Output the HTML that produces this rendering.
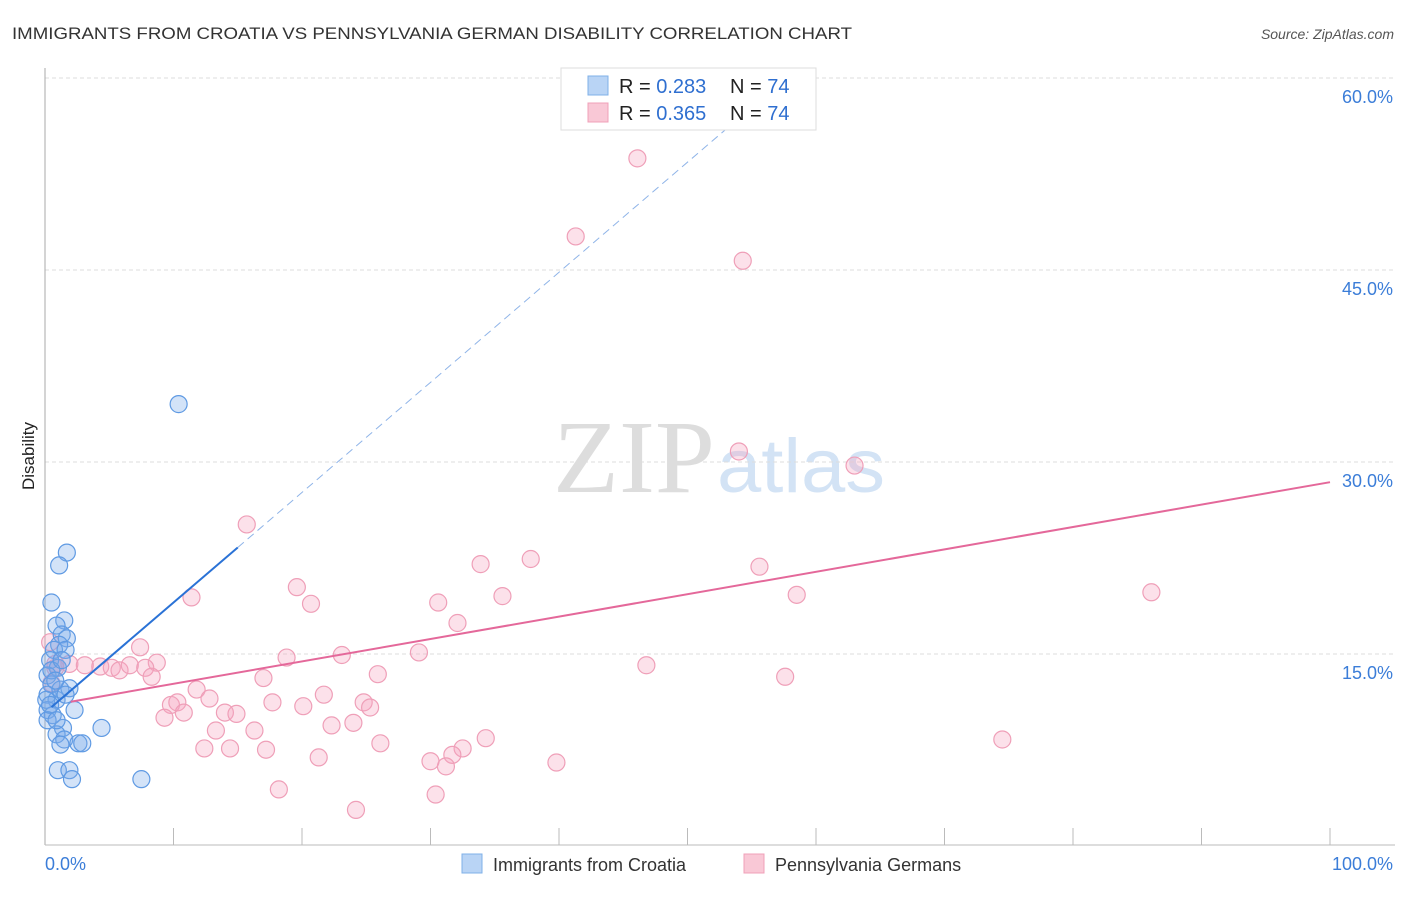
<!DOCTYPE html>
<html><head><meta charset="utf-8"><style>
body{margin:0;background:#fff;font-family:"Liberation Sans",sans-serif}
</style></head><body>
<svg id="c" width="1406" height="892" xmlns="http://www.w3.org/2000/svg">
<text x="12" y="39" font-size="17" fill="#333" textLength="840" lengthAdjust="spacingAndGlyphs">IMMIGRANTS FROM CROATIA VS PENNSYLVANIA GERMAN DISABILITY CORRELATION CHART</text>
<text x="1394" y="39" font-size="14" fill="#555" font-style="italic" text-anchor="end">Source: ZipAtlas.com</text>
<text transform="translate(34,456) rotate(-90)" font-size="17" fill="#222" text-anchor="middle">Disability</text>
<text x="553" y="492" font-size="104" font-family="Liberation Serif,serif" fill="#ddd" textLength="162" lengthAdjust="spacingAndGlyphs">ZIP</text>
<text x="717" y="492" font-size="76" fill="#d3e3f5" textLength="168" lengthAdjust="spacingAndGlyphs">atlas</text>
<g id="grid"></g><g id="pts"></g><g id="lines"></g>
<g>
<rect x="561" y="68" width="255" height="62" fill="#fff" stroke="#ddd"/>
<rect x="588" y="76" width="20" height="19" fill="#b9d4f5" stroke="#7fb0e8"/>
<rect x="588" y="103" width="20" height="19" fill="#f9c8d6" stroke="#f0a0b8"/>
<text x="619" y="93" font-size="20" fill="#222">R = <tspan fill="#2f6fd0">0.283</tspan></text>
<text x="730" y="93" font-size="20" fill="#222">N = <tspan fill="#2f6fd0">74</tspan></text>
<text x="619" y="120" font-size="20" fill="#222">R = <tspan fill="#2f6fd0">0.365</tspan></text>
<text x="730" y="120" font-size="20" fill="#222">N = <tspan fill="#2f6fd0">74</tspan></text>
</g>
<g>
<rect x="462" y="854" width="20" height="19" fill="#b9d4f5" stroke="#7fb0e8"/>
<text x="493" y="871" font-size="18" fill="#333">Immigrants from Croatia</text>
<rect x="744" y="854" width="20" height="19" fill="#f9c8d6" stroke="#f0a0b8"/>
<text x="775" y="871" font-size="18" fill="#333">Pennsylvania Germans</text>
</g>
</svg>
<script>
const yTicks=[15,30,45,60];
const yTickLabels=["15.0%","30.0%","45.0%","60.0%"];
const xTickLabels=["0.0%","100.0%"];
const blueX=[10.4,1.7,1.1,0.5,1.5,0.9,1.3,1.7,1.1,0.7,1.6,0.4,1.0,0.2,0.5,0.2,0.9,0.2,0.6,1.2,1.9,2.3,4.4,1.4,0.9,1.5,1.2,2.6,2.9,1.0,1.9,2.1,7.5,0.5,0.8,0.1,0.4,1.3,1.6,0.2,0.9];
const blueY=[34.6,23.0,22.0,19.1,17.7,17.3,16.6,16.3,15.8,15.4,15.4,14.6,14.0,13.4,12.7,11.9,11.5,10.7,10.3,12.3,12.4,10.7,9.3,9.3,8.8,8.4,8.0,8.1,8.1,6.0,6.0,5.3,5.3,13.8,13.0,11.5,11.1,14.6,11.9,9.9,9.9];
const pinkX=[46.1,41.3,54.3,54.0,63.0,15.7,37.8,33.9,55.6,86.1,19.6,11.4,20.7,35.6,58.5,30.6,32.1,7.4,23.1,29.1,18.8,8.7,0.8,1.9,3.1,4.3,5.2,5.8,6.6,7.8,8.3,46.8,17.0,25.9,57.6,11.8,21.7,12.8,17.7,9.8,10.3,20.1,24.8,25.3,10.8,14.0,14.9,9.3,22.3,24.0,13.3,16.3,34.3,26.1,74.5,12.4,14.4,17.2,32.5,31.7,21.3,30.0,39.8,31.2,18.2,30.4,24.2,0.4,0.8,0.5];
const pinkY=[53.8,47.7,45.8,30.9,29.8,25.2,22.5,22.1,21.9,19.9,20.3,19.5,19.0,19.6,19.7,19.1,17.5,15.6,15.0,15.2,14.8,14.4,14.0,14.3,14.2,14.1,14.0,13.8,14.2,14.0,13.3,14.2,13.2,13.5,13.3,12.3,11.9,11.6,11.3,11.1,11.3,11.0,11.3,10.9,10.5,10.5,10.4,10.1,9.5,9.7,9.1,9.1,8.5,8.1,8.4,7.7,7.7,7.6,7.7,7.2,7.0,6.7,6.6,6.3,4.5,4.1,2.9,16.0,14.3,12.8];
const blueLine=[10.5,96.5], pinkLine=[11.0,28.5];
const X=v=>45+v*12.85, Y=v=>847-v*12.8;
const NS="http://www.w3.org/2000/svg";
function mk(tag,a,p){const e=document.createElementNS(NS,tag);for(const k in a)e.setAttribute(k,a[k]);p.appendChild(e);return e;}
const grid=document.getElementById('grid'),pts=document.getElementById('pts'),lines=document.getElementById('lines');
yTicks.forEach((t,i)=>{
 const g=mk('line',{x1:45,x2:1395,y1:Y(t)-1,y2:Y(t)-1,stroke:'#ddd','stroke-dasharray':'4,3'},grid);
 
 
 const l=mk('text',{x:1393,y:Y(t)+24,'font-size':18,fill:'#3b7dd8','text-anchor':'end'},grid);l.textContent=yTickLabels[i];
 
 
});
mk('line',{x1:45,x2:45,y1:68,y2:845,stroke:'#aaa'},grid);
mk('line',{x1:45,x2:1395,y1:845,y2:845,stroke:'#bbb'},grid);
for(let i=1;i<=10;i++){mk('line',{x1:X(i*10),x2:X(i*10),y1:828,y2:845,stroke:'#bbb'},grid);}
const xl0=mk('text',{x:45,y:870,'font-size':18,fill:'#3b7dd8'},grid);xl0.textContent=xTickLabels[0];


const xl1=mk('text',{x:1393,y:870,'font-size':18,fill:'#3b7dd8','text-anchor':'end'},grid);xl1.textContent=xTickLabels[1];


pinkX.forEach((x,i)=>{const c=mk('circle',{cx:X(x),cy:Y(pinkY[i]),r:8.5,fill:'rgba(245,165,190,0.33)',stroke:'#ef9fb8','stroke-width':1.2},pts);
 
 });
blueX.forEach((x,i)=>{const c=mk('circle',{cx:X(x),cy:Y(blueY[i]),r:8.5,fill:'rgba(120,170,235,0.33)',stroke:'#5f9ae3','stroke-width':1.2},pts);
 
 });
const bAt=x=>blueLine[0]+(blueLine[1]-blueLine[0])*x/100;
const bs=mk('line',{x1:X(0.5),y1:Y(bAt(0.5)),x2:X(15),y2:Y(bAt(15)),stroke:'#2a72d6','stroke-width':2},lines);


const xe=(60-blueLine[0])/(blueLine[1]-blueLine[0])*100;
const bd=mk('line',{x1:X(15),y1:Y(bAt(15)),x2:X(xe),y2:Y(bAt(xe)),stroke:'#8fb4e8','stroke-width':1,'stroke-dasharray':'8,5'},lines);


const pl=mk('line',{x1:X(2),y1:Y(pinkLine[0]+(pinkLine[1]-pinkLine[0])*0.02),x2:X(100),y2:Y(pinkLine[1]),stroke:'#e4689a','stroke-width':2},lines);


</script>
</body></html>
